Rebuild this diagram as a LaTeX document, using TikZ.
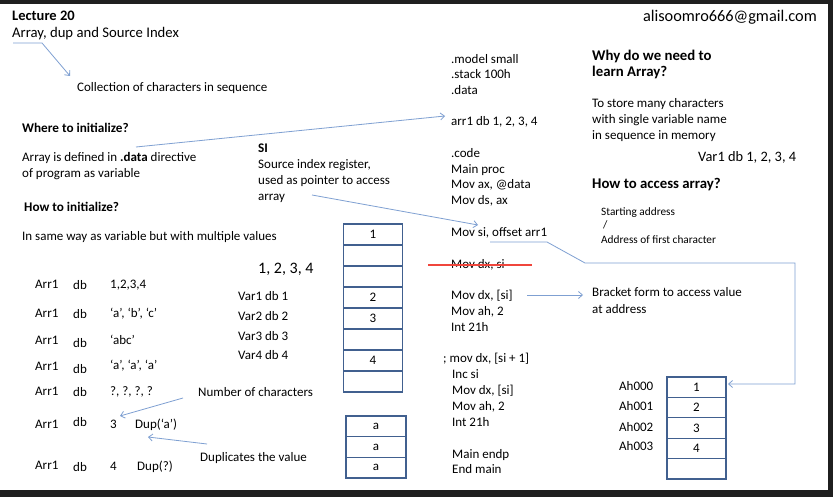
\documentclass[tikz,border=0pt]{standalone}
\usepackage{fontspec}
\setmainfont{Carlito}
\usepackage{tikz}
\usetikzlibrary{arrows.meta, positioning}
\definecolor{cellblue}{HTML}{41608F}
\definecolor{linkblue}{HTML}{7FA0D2}
\definecolor{strikered}{HTML}{F0463C}

\begin{document}
\begin{tikzpicture}[
    x=1pt, y=-1pt,
    txt/.style={anchor=base west, inner sep=0pt, font=\fontsize{13}{15}\selectfont},
    head/.style={txt, font=\fontsize{13.2}{15}\selectfont\bfseries},
    bighead/.style={txt, font=\fontsize{14.8}{17}\selectfont\bfseries},
    note/.style={txt, font=\fontsize{11.3}{13}\selectfont},
    big/.style={txt, font=\fontsize{16}{18}\selectfont},
    cell/.style={rectangle, draw=cellblue, line width=1.3pt, outer sep=0pt, inner sep=0pt,
                 minimum width=59pt, minimum height=21pt, font=\fontsize{13}{15}\selectfont},
    link/.style={-{Straight Barb[length=4pt, width=7pt]}, linkblue, line width=0.8pt},
]
    % slide frame
    \fill[black!88] (0,0) rectangle (833,497);
    \fill[white] (0,4) rectangle (828,490);

    % title
    \node[bighead, font=\fontsize{14.5}{17}\selectfont\bfseries] (lecture) at (12,21) {Lecture 20};
    \node[txt, font=\fontsize{14.7}{17}\selectfont] (sub) at (12,38) {Array, dup and Source Index};
    \node[txt] (coll) at (77,92) {Collection of characters in sequence};
    \node[txt, anchor=base east, font=\fontsize{16.3}{19}\selectfont] (mail) at (817,22) {alisoomro666@gmail.com};

    % where / how
    \node[head] (where) at (22,133) {Where to initialize?};
    \node[txt] (where1) at (22,162) {Array is defined in \textbf{.data} directive};
    \node[txt] (where2) at (22,178) {of program as variable};
    \node[head] (how) at (24,212) {How to initialize?};
    \node[txt] (how1) at (22,241) {In same way as variable but with multiple values};

    % SI
    \node[head] (si) at (258,153) {SI};
    \node[txt] (si1) at (258,169) {Source index register,};
    \node[txt] (si2) at (258,185) {used as pointer to access};
    \node[txt] (si3) at (258,201) {array};

    % Arr1 declarations
    \node[txt] (a1n) at (35,289) {Arr1};
    \node[txt] (a1d) at (73,290) {db};
    \node[txt] (a1v) at (110,289) {1,2,3,4};
    \node[txt] (a2n) at (35,317) {Arr1};
    \node[txt] (a2d) at (73,318) {db};
    \node[txt] (a2v) at (110,317) {‘a’, ‘b’, ‘c’};
    \node[txt] (a3n) at (35,344) {Arr1};
    \node[txt] (a3d) at (73,347) {db};
    \node[txt] (a3v) at (110,344) {‘abc’};
    \node[txt] (a4n) at (35,370) {Arr1};
    \node[txt] (a4d) at (73,373) {db};
    \node[txt] (a4v) at (110,369) {‘a’, ‘a’, ‘a’};
    \node[txt] (a5n) at (35,395) {Arr1};
    \node[txt] (a5d) at (73,396) {db};
    \node[txt] (a5v) at (110,395) {?, ?, ?, ?};
    \node[txt] (a6n) at (35,428) {Arr1};
    \node[txt] (a6d) at (73,426) {db};
    \node[txt] (three) at (110,428) {3};
    \node[txt] (dupa) at (135,428) {Dup(‘a’)};
    \node[txt] (a7n) at (35,469) {Arr1};
    \node[txt] (a7d) at (73,471) {db};
    \node[txt] (four) at (110,470) {4};
    \node[txt] (dupq) at (137,470) {Dup(?)};
    \node[txt] (nchar) at (198,396) {Number of characters};
    \node[txt] (dupv) at (200,461) {Duplicates the value};

    % separate variables
    \node[big] (vals) at (258,274) {1, 2, 3, 4};
    \node[txt] (v1) at (238,301) {Var1 db 1};
    \node[txt] (v2) at (238,320) {Var2 db 2};
    \node[txt] (v3) at (238,340) {Var3 db 3};
    \node[txt] (v4) at (238,359) {Var4 db 4};

    % memory (scattered)
    \node[cell] (m1) at (373,234.5) {1};
    \node[cell, below=0pt of m1] (m2) {};
    \node[cell, below=0pt of m2] (m3) {};
    \node[cell, below=0pt of m3] (m4) {2};
    \node[cell, below=0pt of m4] (m5) {3};
    \node[cell, below=0pt of m5] (m6) {};
    \node[cell, below=0pt of m6] (m7) {4};
    \node[cell, below=0pt of m7] (m8) {};

    % memory (dup)
    \node[cell, minimum width=60pt, minimum height=20.7pt] (d1) at (376,426.3) {a};
    \node[cell, minimum width=60pt, minimum height=20.7pt, below=0pt of d1] (d2) {a};
    \node[cell, minimum width=60pt, minimum height=20.7pt, below=0pt of d2] (d3) {a};

    % program
    \node[txt] (c1) at (451,64) {.model small};
    \node[txt] (c2) at (451,79) {.stack 100h};
    \node[txt] (c3) at (451,95) {.data};
    \node[txt] (arr1) at (451,126) {arr1 db 1, 2, 3, 4};
    \node[txt] (c5) at (451,158) {.code};
    \node[txt] (c6) at (451,174) {Main proc};
    \node[txt] (c7) at (451,189) {Mov ax, @data};
    \node[txt] (c8) at (451,205) {Mov ds, ax};
    \node[txt] (movsi) at (451,237) {Mov si, offset arr1};
    \node[txt] (movdxsi) at (451,269) {Mov dx, si};
    \node[txt] (movdx) at (451,299) {Mov dx, [si]};
    \node[txt] (c12) at (451,315) {Mov ah, 2};
    \node[txt] (c13) at (451,331) {Int 21h};
    \node[txt] (c14) at (443,362) {; mov dx, [si + 1]};
    \node[txt] (c15) at (452,378) {Inc si};
    \node[txt] (c16) at (452,394) {Mov dx, [si]};
    \node[txt] (c17) at (452,410) {Mov ah, 2};
    \node[txt] (c18) at (452,426) {Int 21h};
    \node[txt] (c19) at (452,458) {Main endp};
    \node[txt] (c20) at (452,473) {End main};

    % right column
    \node[bighead] (why1) at (592,61) {Why do we need to};
    \node[bighead] (why2) at (592,77) {learn Array?};
    \node[txt] (why3) at (592,108) {To store many characters};
    \node[txt] (why4) at (592,124) {with single variable name};
    \node[txt] (why5) at (592,140) {in sequence in memory};
    \node[big, font=\fontsize{14.4}{17}\selectfont] (var1) at (698,162) {Var1 db 1, 2, 3, 4};
    \node[bighead] (access) at (592,189) {How to access array?};
    \node[note] (start1) at (601,216) {Starting address};
    \node[note] (start2) at (603,229) {/};
    \node[note] (start3) at (601,244) {Address of first character};
    \node[txt] (brk1) at (592,297) {Bracket form to access value};
    \node[txt] (brk2) at (592,313) {at address};

    % addressed memory
    \node[txt] (h0) at (619,390) {Ah000};
    \node[txt] (h1) at (619,410) {Ah001};
    \node[txt] (h2) at (619,431) {Ah002};
    \node[txt] (h3) at (619,450) {Ah003};
    \node[cell, minimum height=20.4pt] (r1) at (696.5,387.2) {1};
    \node[cell, minimum height=20.4pt, below=0pt of r1] (r2) {2};
    \node[cell, minimum height=20.4pt, below=0pt of r2] (r3) {3};
    \node[cell, minimum height=20.4pt, below=0pt of r3] (r4) {4};
    \node[cell, minimum height=20.4pt, below=0pt of r4] (r5) {};

    % connector points
    \coordinate (subfoot) at (13,43);
    \coordinate (subbend) at (42,43);
    \coordinate (collin) at (70,76);
    \coordinate (wherefoot) at (136,147);
    \coordinate (arrin) at (445,116);
    \coordinate (sifoot) at (312,195);
    \coordinate (movsiin) at (478,225);
    \coordinate (ncharfoot) at (183,398);
    \coordinate (threein) at (120,416);
    \coordinate (dupvfoot) at (207,444);
    \coordinate (dupain) at (148,437);
    \coordinate (offsetfoot) at (490,242);
    \coordinate (offsetbend) at (547,242);
    \coordinate (offsetrise) at (585,263);
    \coordinate (offsetturn) at (795,263);
    \coordinate (offsetdrop) at (795,384);
    \coordinate (movdxfoot) at (527,295);
    \coordinate (brkin) at (583,295);
    \coordinate (strikeL) at (428,265);
    \coordinate (strikeR) at (532,265);

    % connectors
    \draw[link] (subfoot) -- (subbend) -- (collin);
    \draw[link] (wherefoot) -- (arrin);
    \draw[link] (sifoot) -- (movsiin);
    \draw[link] (ncharfoot) -- (threein);
    \draw[link] (dupvfoot) -- (dupain);
    \draw[link] (offsetfoot) -- (offsetbend) -- (offsetrise) -- (offsetturn) -- (offsetdrop) -- ([xshift=2pt]r1.east |- offsetdrop);
    \draw[link] (movdxfoot) -- (brkin);
    \draw[draw=strikered, line width=1.5pt] (strikeL) -- (strikeR);

\end{tikzpicture}
\end{document}
